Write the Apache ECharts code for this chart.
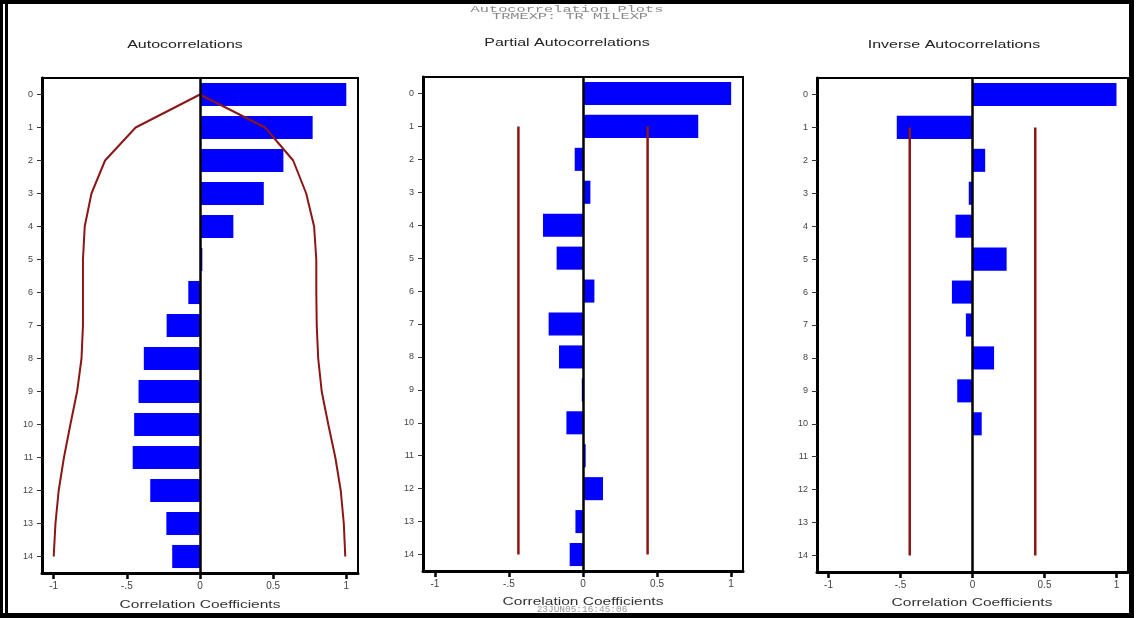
<!DOCTYPE html>
<html>
<head>
<meta charset="utf-8">
<script src="https://cdn.jsdelivr.net/npm/echarts@6/dist/echarts.min.js"></script>
<style>
  html, body { margin: 0; padding: 0; background: #fff; }
  #main { width: 1141px; height: 618px; }
</style>
</head>
<body>
<div id="main"></div>
<script>
// lags on the vertical axis
var lags = ['0', '1', '2', '3', '4', '5', '6', '7', '8', '9', '10', '11', '12', '13', '14'];

// autocorrelations + their 2 std err curve
var acf = [1.0, 0.77, 0.57, 0.436, 0.228, 0.016, -0.08, -0.228, -0.384, -0.42, -0.45, -0.46, -0.34, -0.23, -0.19];
var acfUpper = [0, 0.445, 0.637, 0.726, 0.78, 0.795, 0.795, 0.798, 0.808, 0.832, 0.877, 0.925, 0.962, 0.983, 0.993];
var acfLower = [0, -0.44, -0.649, -0.742, -0.788, -0.8, -0.8, -0.8, -0.81, -0.84, -0.886, -0.93, -0.966, -0.988, -1.0];

// partial and inverse autocorrelations
var pacf = [1.0, 0.778, -0.056, 0.05, -0.27, -0.178, 0.077, -0.232, -0.162, -0.008, -0.112, 0.018, 0.135, -0.051, -0.09];
var iacf = [1.0, -0.526, 0.088, -0.026, -0.118, 0.237, -0.143, -0.046, 0.15, -0.106, 0.064, null, null, null, null];
var limit = 0.436; // std err band for partial / inverse

var xTicks = [-1, -0.5, 0, 0.5, 1];
var xTickLabels = ['-1', '-.5', '0', '0.5', '1'];

var panelTitles = ['Autocorrelations', 'Partial Autocorrelations', 'Inverse Autocorrelations'];

var chart = echarts.init(document.getElementById('main'), null, { renderer: 'canvas' });

var grids = [
  { left: 42, top: 78, width: 316, height: 495 },
  { left: 423, top: 77, width: 320, height: 494 },
  { left: 817, top: 78, width: 311, height: 494 }
];

var BLUE = '#0000ff';
var RED = '#8b1616';

var xAxes = [], yAxes = [];
grids.forEach(function (g, i) {
  g.show = true;
  g.borderColor = '#000';
  g.borderWidth = 2;
  g.backgroundColor = '#fff';
  g.containLabel = false;
  xAxes.push({
    type: 'value',
    gridIndex: i,
    min: -1.08,
    max: 1.08,
    axisLine: { show: true, lineStyle: { color: '#000', width: 3 } },
    axisTick: { show: true, customValues: xTicks, length: 6, lineStyle: { color: '#000', width: 2.5 } },
    axisLabel: {
      customValues: xTicks,
      fontSize: 10,
      color: '#444',
      fontFamily: 'Liberation Sans',
      margin: 8,
      formatter: function (v) {
        var k = xTicks.indexOf(v);
        return k >= 0 ? xTickLabels[k] : '';
      }
    },
    splitLine: { show: false }
  });
  yAxes.push({
    type: 'category',
    gridIndex: i,
    data: lags,
    inverse: true,
    axisLine: { show: true, onZero: false, lineStyle: { color: '#000', width: 3 } },
    axisTick: { show: true, alignWithLabel: true, length: 5, lineStyle: { color: '#333' } },
    axisLabel: { fontSize: 9, color: '#444', fontFamily: 'Liberation Sans', margin: 9 },
    splitLine: { show: false }
  });
});

var zeroLine = {
  silent: true,
  symbol: ['none', 'none'],
  label: { show: false },
  lineStyle: { color: '#000', width: 2.5, type: 'solid' },
  data: [{ xAxis: 0 }]
};

function bars(vals, i) {
  return {
    type: 'bar',
    xAxisIndex: i,
    yAxisIndex: i,
    data: vals,
    barWidth: '70%',
    itemStyle: { color: BLUE },
    markLine: zeroLine,
    z: 2
  };
}

function redLine(points, i, w) {
  return {
    type: 'line',
    xAxisIndex: i,
    yAxisIndex: i,
    data: points,
    showSymbol: false,
    symbol: 'none',
    lineStyle: { color: RED, width: w },
    z: 4
  };
}

var series = [
  bars(acf, 0),
  redLine(lags.map(function (l, k) { return [acfUpper[k], l]; }), 0, 2),
  redLine(lags.map(function (l, k) { return [acfLower[k], l]; }), 0, 2),
  bars(pacf, 1),
  redLine(lags.slice(1).map(function (l) { return [limit, l]; }), 1, 2.5),
  redLine(lags.slice(1).map(function (l) { return [-limit, l]; }), 1, 2.5),
  bars(iacf, 2),
  redLine(lags.slice(1).map(function (l) { return [limit, l]; }), 2, 2.5),
  redLine(lags.slice(1).map(function (l) { return [-limit, l]; }), 2, 2.5)
];

// stretched texts, as in the source picture
function stretched(text, x, y, size, sx, color, family) {
  return {
    type: 'text',
    x: x,
    y: y,
    scaleX: sx,
    z: 10,
    style: {
      text: text,
      fill: color,
      font: size + 'px "' + family + '"',
      align: 'center',
      verticalAlign: 'middle'
    }
  };
}

var graphics = [
  stretched('Autocorrelation Plots', 567, 10, 9, 1.7, '#888', 'Liberation Mono'),
  stretched('TRMEXP: TR MILEXP', 570, 17, 9, 1.7, '#888', 'Liberation Mono'),
  stretched('23JUN05:16:45:06', 582, 610, 9, 1.05, '#999', 'Liberation Mono'),
  stretched(panelTitles[0], 185, 45, 10, 1.6, '#222', 'Liberation Sans'),
  stretched(panelTitles[1], 567, 43, 10, 1.6, '#222', 'Liberation Sans'),
  stretched(panelTitles[2], 954, 45, 10, 1.6, '#222', 'Liberation Sans'),
  stretched('Correlation Coefficients', 200, 605, 10, 1.55, '#333', 'Liberation Sans'),
  stretched('Correlation Coefficients', 583, 602, 10, 1.55, '#333', 'Liberation Sans'),
  stretched('Correlation Coefficients', 972, 603, 10, 1.55, '#333', 'Liberation Sans'),
  // page frame
  { type: 'rect', z: 20, shape: { x: 0, y: 0, width: 1134, height: 4 }, style: { fill: '#000' } },
  { type: 'rect', z: 20, shape: { x: 0, y: 613, width: 1134, height: 5 }, style: { fill: '#000' } },
  { type: 'rect', z: 20, shape: { x: 0, y: 0, width: 3, height: 618 }, style: { fill: '#000' } },
  { type: 'rect', z: 20, shape: { x: 5, y: 0, width: 3, height: 618 }, style: { fill: '#000' } },
  { type: 'rect', z: 20, shape: { x: 1129, y: 0, width: 5, height: 618 }, style: { fill: '#000' } }
];

chart.setOption({
  animation: false,
  backgroundColor: '#fff',
  grid: grids,
  xAxis: xAxes,
  yAxis: yAxes,
  series: series,
  graphic: graphics
});
</script>
</body>
</html>
